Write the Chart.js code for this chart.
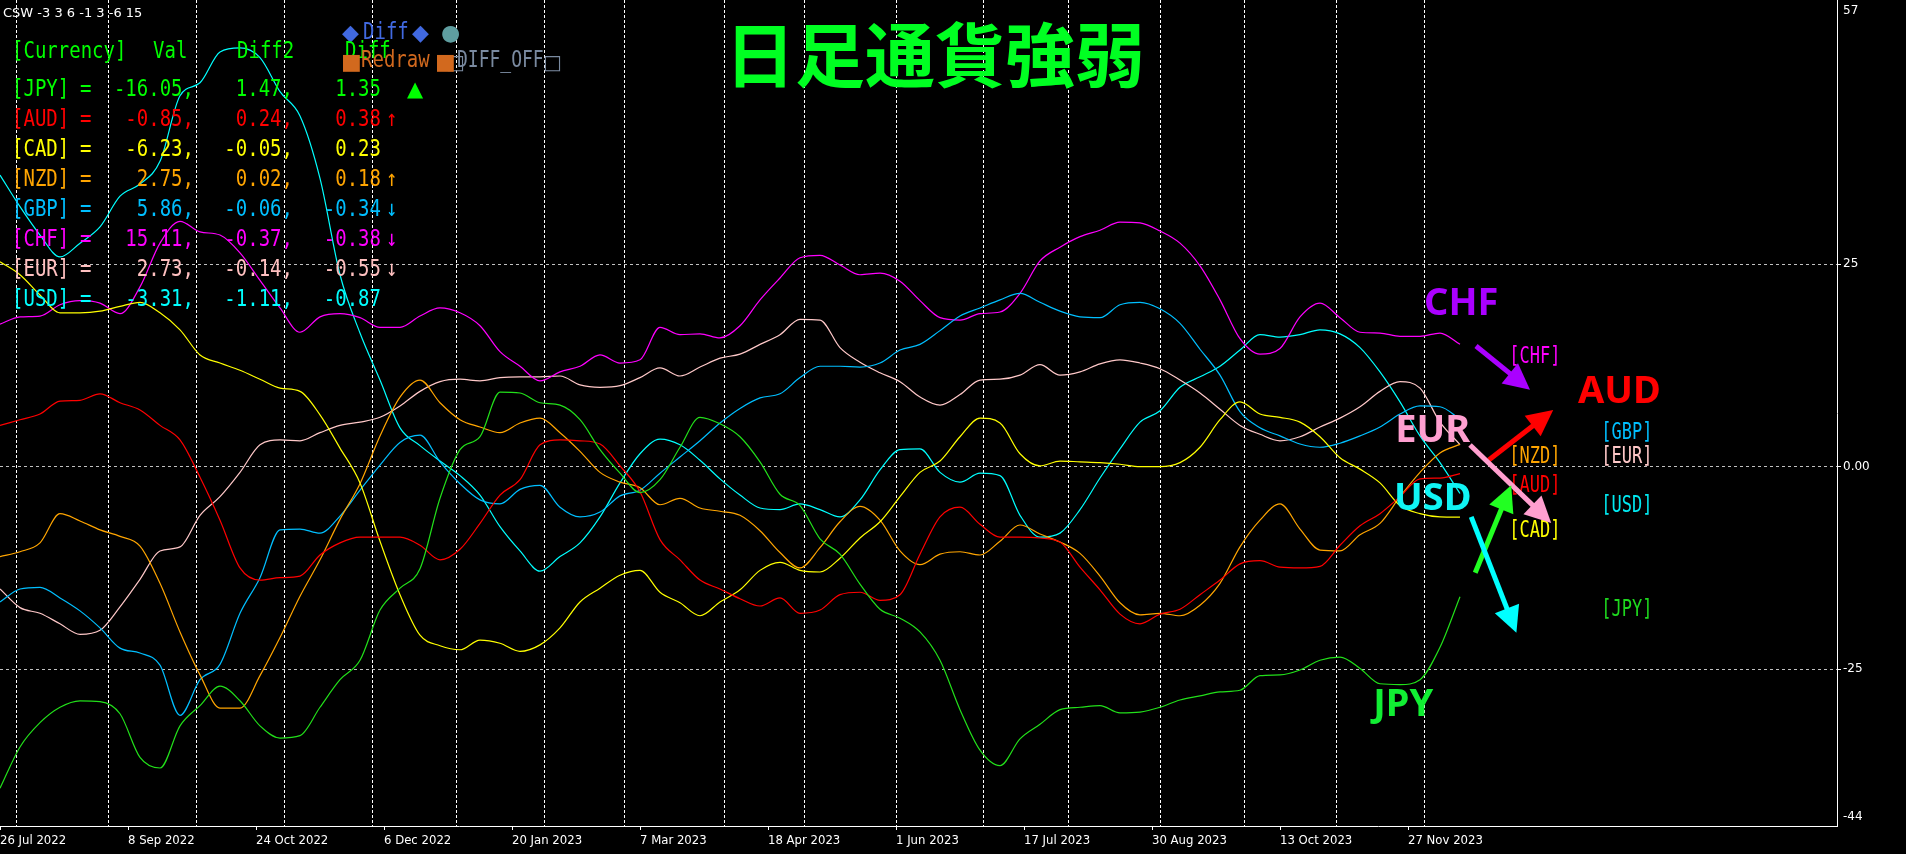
<!DOCTYPE html>
<html>
<head>
<meta charset="utf-8">
<script src="https://cdn.jsdelivr.net/npm/chart.js@4.4.1/dist/chart.umd.min.js"></script>
<style>
html,body{margin:0;padding:0;background:#000;overflow:hidden;}
canvas{display:block;}
</style>
</head>
<body>
<canvas id="c" width="1906" height="854" style="width:1906px;height:854px"></canvas>
<script>
// ---------- data (bar index = trading day counted from 26 Jul 2022) ----------
const xBars = [0,5,10,15,20,25,30,35,40,45,50,55,60,65,70,75,80,85,90,95,100,105,110,115,120,125,130,135,140,145,150,155,160,165,170,175,180,185,190,195,200,205,210,215,220,225,230,235,240,245,250,255,260,265,270,275,280,285,290,295,300,305,310,315,320,325,330,335,340,345,350,355,360,365];

const jpy = [-39.7,-34.6,-31.6,-29.7,-28.9,-29.0,-30.5,-35.9,-37.2,-32.0,-29.5,-27.1,-28.9,-32.0,-33.5,-33.2,-29.7,-26.3,-23.9,-17.7,-15.0,-12.6,-3.9,2.1,3.7,9.2,9.1,7.9,7.6,5.8,2.1,-0.8,-3.2,-1.6,2.4,6.1,5.3,3.7,0.6,-3.4,-4.8,-8.9,-10.8,-14.5,-17.6,-18.7,-20.4,-23.9,-30.0,-35.0,-36.9,-33.6,-31.8,-30.0,-29.7,-29.5,-30.4,-30.3,-29.7,-28.8,-28.3,-27.8,-27.6,-25.8,-25.7,-25.1,-23.9,-23.5,-24.9,-26.8,-26.9,-26.3,-22.3,-16.05];
const aud = [5.1,5.8,6.5,8.1,8.2,9.0,7.9,7.0,5.1,3.3,-1.3,-6.6,-12.5,-14.0,-13.7,-13.5,-10.9,-9.4,-8.7,-8.7,-8.7,-9.7,-11.5,-10.2,-7.0,-3.5,-1.6,2.7,3.3,3.2,2.8,0.1,-3.1,-9.0,-11.5,-14.0,-15.1,-16.3,-17.2,-16.2,-18.1,-17.7,-15.8,-15.5,-16.5,-15.8,-10.8,-6.2,-5.0,-7.1,-8.7,-8.7,-8.8,-9.3,-12.4,-15.2,-18.2,-19.4,-18.2,-17.6,-15.8,-14.0,-12.0,-11.6,-12.4,-12.5,-12.3,-9.7,-7.3,-5.8,-3.7,-1.5,-1.4,-0.85];
const cad = [25.3,23.7,21.2,19.0,19.0,19.2,19.8,20.3,19.0,16.9,13.8,12.8,11.9,10.8,9.7,9.3,6.4,2.3,-2.0,-9.2,-15.8,-20.8,-22.1,-22.6,-21.4,-21.8,-22.8,-22.0,-19.9,-16.7,-15.0,-13.4,-12.8,-15.5,-16.8,-18.4,-16.7,-15.2,-12.8,-11.8,-12.8,-13.0,-11.3,-8.8,-6.8,-3.7,-0.7,0.7,3.7,6.0,5.4,1.6,0.1,0.7,0.6,0.5,0.3,0.0,0.0,0.5,2.4,5.8,8.0,6.5,6.1,5.5,3.7,1.1,-0.3,-2.0,-4.8,-5.8,-6.2,-6.23];
const nzd = [-11.1,-10.5,-9.4,-5.8,-6.7,-7.8,-8.6,-9.8,-14.4,-20.4,-25.7,-29.8,-29.8,-25.8,-21.1,-16.0,-11.5,-6.5,-2.1,3.8,8.6,10.7,7.9,5.8,4.9,4.2,5.4,6.0,4.2,1.9,-0.7,-1.9,-2.6,-4.7,-3.9,-5.1,-5.5,-6.0,-7.9,-10.6,-12.5,-10.0,-6.8,-4.9,-6.6,-10.4,-12.1,-10.8,-10.5,-10.9,-9.2,-7.2,-8.3,-9.3,-10.7,-13.5,-16.8,-18.3,-18.1,-18.4,-17.1,-14.4,-9.9,-6.6,-4.6,-7.7,-10.3,-10.4,-8.4,-7.0,-3.7,-0.7,1.7,2.75];
const gbp = [-16.7,-15.1,-14.9,-16.2,-17.8,-19.9,-22.4,-23.0,-24.5,-30.7,-26.3,-24.4,-18.1,-13.7,-7.8,-7.7,-8.2,-6.1,-2.9,0.2,3.0,3.9,0.6,-2.1,-4.1,-4.6,-2.8,-2.3,-5.0,-6.2,-5.6,-3.6,-2.9,-0.8,1.2,3.2,5.4,7.2,8.5,9.0,11.0,12.4,12.4,12.3,12.8,14.4,15.1,16.8,18.6,19.6,20.6,21.4,20.3,19.2,18.5,18.4,20.0,20.3,19.5,17.7,14.5,11.3,6.8,4.8,3.8,2.8,2.4,2.9,3.8,4.9,6.5,7.5,7.4,5.86];
const chf = [17.6,18.5,18.6,20.0,20.5,20.2,18.9,22.2,27.6,30.3,29.0,28.6,26.4,23.0,19.6,16.6,18.5,18.9,18.4,17.2,17.2,18.6,19.6,19.0,17.4,14.2,12.4,10.6,11.7,12.4,13.8,12.8,13.2,17.2,16.3,16.4,15.9,17.4,20.6,23.3,25.8,26.1,24.9,23.7,23.9,22.9,20.5,18.4,18.1,18.9,19.1,21.4,25.4,27.1,28.4,29.2,30.2,30.1,29.1,27.6,24.8,20.6,15.8,13.9,14.6,18.5,20.2,18.4,16.6,16.5,16.1,16.1,16.5,15.11];
const eur = [-15.1,-17.4,-18.1,-19.4,-20.7,-20.2,-17.3,-13.9,-10.4,-9.9,-6.0,-3.7,-0.7,2.7,3.3,3.2,4.2,5.1,5.5,6.1,7.5,9.3,10.5,10.8,10.6,11.0,11.1,11.1,11.2,10.1,9.8,10.0,11.0,12.2,11.2,12.3,13.4,13.9,15.1,16.3,18.2,18.1,14.7,12.9,11.6,10.5,8.6,7.6,8.9,10.7,10.8,11.3,12.6,11.3,11.7,12.7,13.2,12.8,12.1,10.7,9.1,7.1,5.1,4.0,3.2,3.7,4.9,6.0,7.4,9.3,10.5,9.7,5.5,2.73];
const usd = [36.0,32.1,28.6,25.9,27.6,29.6,33.4,34.9,37.7,45.8,47.4,51.2,51.7,50.5,46.3,43.3,35.6,23.7,16.5,10.7,4.8,2.6,0.7,-1.1,-3.5,-7.4,-10.4,-12.9,-11.1,-9.4,-6.2,-2.0,1.6,3.4,2.7,0.8,-1.5,-3.5,-5.1,-5.3,-4.6,-5.3,-6.2,-4.1,-0.4,2.1,2.2,-0.7,-1.9,-0.8,-1.1,-6.0,-8.7,-8.2,-5.3,-1.4,2.2,5.5,6.9,9.8,11.1,12.4,14.4,16.3,16.0,16.3,16.9,16.4,14.7,11.7,8.0,3.8,0.5,-3.31];

const xTickBars = [0,32,64,96,128,160,192,224,256,288,320,352];
const xTickLabels = ['26 Jul 2022','8 Sep 2022','24 Oct 2022','6 Dec 2022','20 Jan 2023','7 Mar 2023','18 Apr 2023','1 Jun 2023','17 Jul 2023','30 Aug 2023','13 Oct 2023','27 Nov 2023'];
const monthStartBars = [4,27,49,71,93,114,136,156,181,201,224,246,267,290,311,334,356];
const yTickValues = [-43.25,-25,0,25,56.3];
const yTickLabels = ['-44','-25','0.00','25','57'];
const yGridValues = [-25,0,25];

const currencies = ['JPY','AUD','CAD','NZD','GBP','CHF','EUR','USD'];
const tableVal   = ['-16.05','-0.85','-6.23','2.75','5.86','15.11','2.73','-3.31'];
const tableDiff2 = ['1.47','0.24','-0.05','0.02','-0.06','-0.37','-0.14','-1.11'];
const tableDiff  = ['1.35','0.38','0.23','0.18','-0.34','-0.38','-0.55','-0.87'];
const tableMark  = ['▲','↑','','↑','↓','↓','↓',''];
const headerText = 'CSW -3 3 6 -1 3 -6 15';
const titleText = '日足通貨強弱';

// ---------- styles ----------
const lineColors = {JPY:'#22e01a',AUD:'#ff0000',CAD:'#ffff00',NZD:'#ffa500',GBP:'#00bfff',CHF:'#ff00ff',EUR:'#ffc8c8',USD:'#00ffff'};
const textColors = {JPY:'#00ff00',AUD:'#ff0000',CAD:'#ffff00',NZD:'#ffa500',GBP:'#00bfff',CHF:'#ff00ff',EUR:'#ffc0c0',USD:'#00ffff'};
const seriesData = {JPY:jpy,AUD:aud,CAD:cad,NZD:nzd,GBP:gbp,CHF:chf,EUR:eur,USD:usd};

// annotation anchors in data coordinates (bar, value)
const bigLabels = [
  {text:'CHF', bar:356.0, val:18.7, color:'#aa00ff'},
  {text:'AUD', bar:394.5, val:7.9,  color:'#ff0000'},
  {text:'EUR', bar:348.8, val:3.05, color:'#ff9fd0'},
  {text:'USD', bar:348.5, val:-5.35,color:'#10f4f4'},
  {text:'JPY', bar:343.3, val:-30.8,color:'#11ee33'}
];
const tagLabels = [
  {text:'[CHF]', bar:377.3, val:13.8, color:'#ff00ff'},
  {text:'[NZD]', bar:377.3, val:1.45, color:'#ffa500'},
  {text:'[AUD]', bar:377.3, val:-2.1, color:'#ff0000'},
  {text:'[CAD]', bar:377.3, val:-7.6, color:'#ffff00'},
  {text:'[GBP]', bar:400.3, val:4.5,  color:'#00bfff'},
  {text:'[EUR]', bar:400.3, val:1.45, color:'#ffc8c8'},
  {text:'[USD]', bar:400.3, val:-4.6, color:'#00e8f0'},
  {text:'[JPY]', bar:400.3, val:-17.4,color:'#1ed81e'}
];
const arrows = [
  {from:[369.0,14.9], to:[382.5,9.5],  color:'#aa00ff'},
  {from:[372.2,0.83], to:[388.3,7.0],  color:'#ff0000'},
  {from:[367.5,2.68], to:[387.8,-6.95],color:'#ff9fcf'},
  {from:[368.8,-13.1],to:[377.8,-2.3], color:'#22ff22'},
  {from:[367.8,-6.2], to:[379.1,-20.5],color:'#00ffff'}
];

const MONO = "'DejaVu Sans Mono','Liberation Mono',monospace";

function txt(ctx, s, x, y, font, color, align, sy) {
  ctx.save();
  ctx.font = font; ctx.fillStyle = color; ctx.textAlign = align || 'left'; ctx.textBaseline = 'alphabetic';
  ctx.translate(x, y); ctx.scale(1, sy || 1);
  ctx.fillText(s, 0, 0);
  ctx.restore();
}
function drawArrow(ctx, x1, y1, x2, y2, color) {
  const ang = Math.atan2(y2 - y1, x2 - x1), hl = 26, hw = 13;
  const c = Math.cos(ang), s = Math.sin(ang);
  const bx = x2 - hl * c, by = y2 - hl * s;
  ctx.save();
  ctx.strokeStyle = color; ctx.fillStyle = color; ctx.lineWidth = 5; ctx.lineCap = 'butt';
  ctx.beginPath(); ctx.moveTo(x1, y1); ctx.lineTo(bx + 2 * c, by + 2 * s); ctx.stroke();
  ctx.beginPath(); ctx.moveTo(x2, y2); ctx.lineTo(bx + hw * s, by - hw * c); ctx.lineTo(bx - hw * s, by + hw * c); ctx.closePath(); ctx.fill();
  ctx.restore();
}

const overlay = {
  id: 'overlay',
  beforeDraw(chart) {
    const c = chart.ctx; c.save(); c.fillStyle = '#000'; c.fillRect(0, 0, chart.width, chart.height); c.restore();
  },
  afterDraw(chart) {
    const ctx = chart.ctx, xs = chart.scales.x, ys = chart.scales.y;
    // header line
    txt(ctx, headerText, 3, 17, "13px 'DejaVu Sans',sans-serif", '#ffffff');
    // title
    txt(ctx, titleText, 725, 82, "bold 70px 'Noto Sans CJK JP','Noto Sans CJK SC',sans-serif", '#00ff22');
    // legend-like buttons
    txt(ctx, '◆', 342, 40, "22px 'DejaVu Sans',sans-serif", '#4169e1');
    txt(ctx, 'Diff', 363, 39, "19px " + MONO, '#4169e1', 'left', 1.2);
    txt(ctx, '◆', 412, 40, "22px 'DejaVu Sans',sans-serif", '#4169e1');
    txt(ctx, '●', 441, 40, "22px 'DejaVu Sans',sans-serif", '#5f9ea0');
    // table header
    const hc = '#00ff00';
    txt(ctx, '[Currency]', 12, 58, "19px " + MONO, hc, 'left', 1.2);
    txt(ctx, 'Val', 153, 58, "19px " + MONO, hc, 'left', 1.2);
    txt(ctx, 'Diff2', 237, 58, "19px " + MONO, hc, 'left', 1.2);
    txt(ctx, 'Diff', 345, 58, "19px " + MONO, hc, 'left', 1.2);
    txt(ctx, '■', 341, 69, "22px 'DejaVu Sans',sans-serif", '#d2691e');
    txt(ctx, 'Redraw', 361, 67, "19px " + MONO, '#d2691e', 'left', 1.2);
    txt(ctx, '□', 446, 69, "20px 'DejaVu Sans',sans-serif", '#7a8aa0');
    txt(ctx, '■', 435, 69, "22px 'DejaVu Sans',sans-serif", '#d2691e');
    txt(ctx, 'DIFF_OFF', 457, 67, "18px " + MONO, '#7a8aa0', 'left', 1.25);
    txt(ctx, '□', 543, 69, "20px 'DejaVu Sans',sans-serif", '#7a8aa0');
    // table rows
    currencies.forEach((cur, i) => {
      const y = 95.5 + 30 * i, col = textColors[cur], f = "19px " + MONO;
      txt(ctx, '[' + cur + ']', 12, y, f, col, 'left', 1.2);
      txt(ctx, '=', 80, y, f, col, 'left', 1.2);
      txt(ctx, tableVal[i] + ',', 194, y, f, col, 'right', 1.2);
      txt(ctx, tableDiff2[i] + ',', 293, y, f, col, 'right', 1.2);
      txt(ctx, tableDiff[i], 381, y, f, col, 'right', 1.2);
      if (tableMark[i] === '▲') txt(ctx, '▲', 407, y, "21px 'DejaVu Sans',sans-serif", col);
      else if (tableMark[i]) txt(ctx, tableMark[i], 386, y, f, col, 'left', 1.2);
    });
    // big currency labels
    bigLabels.forEach(l => txt(ctx, l.text, xs.getPixelForValue(l.bar), ys.getPixelForValue(l.val), "bold 38px 'Noto Sans','Open Sans',sans-serif", l.color));
    // tag labels
    tagLabels.forEach(l => txt(ctx, l.text, xs.getPixelForValue(l.bar), ys.getPixelForValue(l.val) + 8.3, "17px " + MONO, l.color, 'left', 1.32));
    // arrows
    arrows.forEach(a => drawArrow(ctx, xs.getPixelForValue(a.from[0]), ys.getPixelForValue(a.from[1]), xs.getPixelForValue(a.to[0]), ys.getPixelForValue(a.to[1]), a.color));
  }
};

const datasets = currencies.map(cur => ({
  label: cur,
  data: xBars.map((b, i) => ({x: b, y: seriesData[cur][i]})),
  borderColor: lineColors[cur],
  borderWidth: 1.2,
  pointRadius: 0,
  fill: false,
  cubicInterpolationMode: 'monotone'
}));

new Chart(document.getElementById('c'), {
  type: 'line',
  data: {datasets},
  plugins: [overlay],
  options: {
    responsive: false,
    animation: false,
    events: [],
    layout: {padding: 0},
    plugins: {legend: {display: false}, tooltip: {enabled: false}},
    scales: {
      x: {
        type: 'linear', position: 'bottom', min: 0, max: 459.25,
        afterBuildTicks: s => { s.ticks = xTickBars.map(v => ({value: v})); },
        afterFit: s => { s.height = 28; s.paddingLeft = 0; s.paddingRight = 0; },
        ticks: {autoSkip: false, maxRotation: 0, minRotation: 0, align: 'start', padding: 3, color: '#ffffff',
                font: {family: "'DejaVu Sans Condensed','DejaVu Sans',sans-serif", size: 13},
                callback: (v, i) => xTickLabels[i]},
        grid: {drawOnChartArea: false, drawTicks: true, tickLength: 4, tickColor: '#ffffff'},
        border: {display: true, color: '#ffffff', width: 1}
      },
      xg: {
        type: 'linear', position: 'bottom', min: 0, max: 459.25,
        afterBuildTicks: s => { s.ticks = monthStartBars.map(v => ({value: v})); },
        afterFit: s => { s.height = 0; s.paddingLeft = 0; s.paddingRight = 0; },
        ticks: {display: false},
        grid: {drawTicks: false, color: '#ffffff', lineWidth: 1},
        border: {display: false, dash: [3, 2]}
      },
      y: {
        type: 'linear', position: 'right', min: -44.36, max: 57.62,
        afterBuildTicks: s => { s.ticks = yTickValues.map(v => ({value: v})); },
        afterFit: s => { s.width = 69; s.paddingTop = 0; s.paddingBottom = 0; },
        ticks: {color: '#ffffff', padding: 2, font: {family: "'DejaVu Sans',sans-serif", size: 12},
                callback: (v, i) => yTickLabels[i]},
        grid: {color: c => (c.tick && yGridValues.includes(c.tick.value)) ? '#c0c0c0' : 'transparent',
               tickColor: c => (c.tick && yGridValues.includes(c.tick.value)) ? '#ffffff' : 'transparent',
               drawTicks: true, tickLength: 4},
        border: {display: true, color: '#ffffff', width: 1, dash: [3, 3]}
      }
    }
  }
});
</script>
</body>
</html>
